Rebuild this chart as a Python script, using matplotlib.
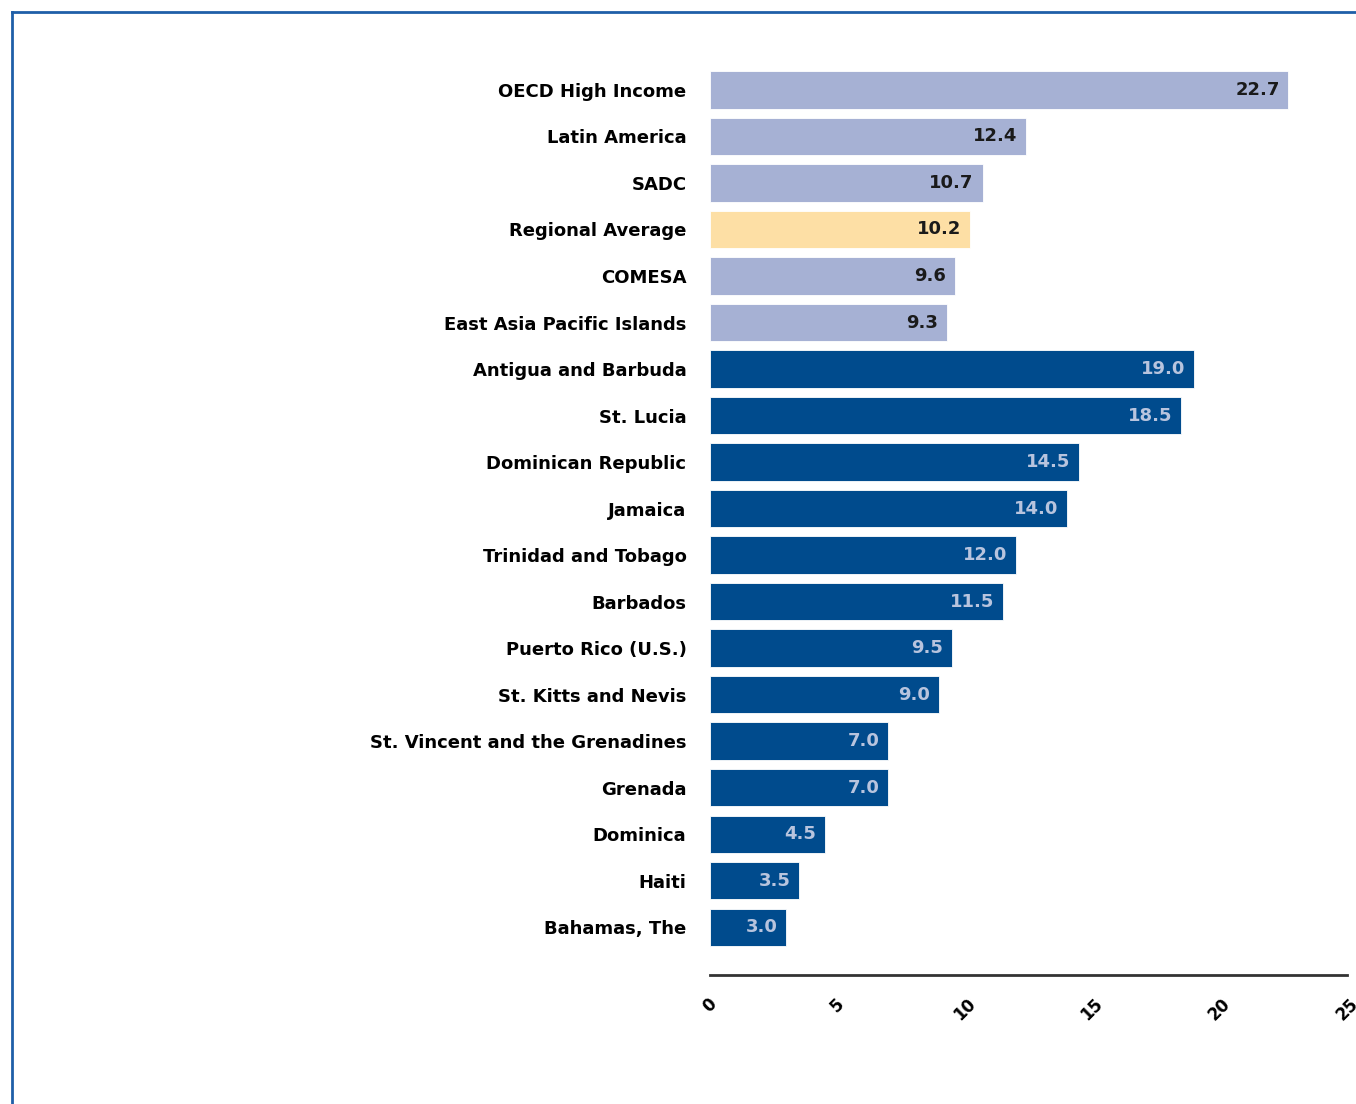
import matplotlib.pyplot as plt
from matplotlib.lines import Line2D

categories = [
    'OECD High Income', 'Latin America', 'SADC', 'Regional Average', 'COMESA',
    'East Asia Pacific Islands', 'Antigua and Barbuda', 'St. Lucia',
    'Dominican Republic', 'Jamaica', 'Trinidad and Tobago', 'Barbados',
    'Puerto Rico (U.S.)', 'St. Kitts and Nevis', 'St. Vincent and the Grenadines',
    'Grenada', 'Dominica', 'Haiti', 'Bahamas, The',
]
values = [22.7, 12.4, 10.7, 10.2, 9.6, 9.3, 19.0, 18.5, 14.5, 14.0, 12.0, 11.5,
          9.5, 9.0, 7.0, 7.0, 4.5, 3.5, 3.0]
groups = ['ref', 'ref', 'ref', 'avg', 'ref', 'ref'] + ['country'] * 13
xticks = [0, 5, 10, 15, 20, 25]

bar_colors = {'ref': '#A6B1D4', 'avg': '#FDDFA5', 'country': '#004B8D'}
label_colors = {'ref': '#1a1a1a', 'avg': '#1a1a1a', 'country': '#B8C4DE'}

fig = plt.figure(figsize=(13.56, 11.04), dpi=100)
ax = fig.add_axes([0.5236, 0.1168, 0.4698, 0.8270])

n = len(categories)
ypos = [n - 1 - i for i in range(n)]
ax.barh(ypos, values, height=0.8,
        color=[bar_colors[g] for g in groups], edgecolor='white', linewidth=0.6)

for y, v, g in zip(ypos, values, groups):
    ax.text(v - 0.35, y, f'{v:.1f}', ha='right', va='center', fontsize=13,
            fontweight='bold', color=label_colors[g])

ax.set_yticks(ypos)
ax.set_yticklabels(categories, fontsize=13, fontweight='bold')
ax.set_xticks(xticks)
ax.set_xticklabels([str(t) for t in xticks], rotation=45, fontsize=12,
                   fontweight='bold', ha='center', va='top')
ax.tick_params(axis='both', length=0)
ax.tick_params(axis='y', pad=17)
ax.tick_params(axis='x', pad=14)
ax.set_xlim(0, 25)
ax.set_ylim(-1.03, 18.6)
for s in ['top', 'right', 'left']:
    ax.spines[s].set_visible(False)
ax.spines['bottom'].set_color('#333333')
ax.spines['bottom'].set_linewidth(2)

# frame lines along the top and left of the picture
fig.add_artist(Line2D([0.0085, 1], [0.989, 0.989], transform=fig.transFigure,
                      color='#1F5FA8', linewidth=2))
fig.add_artist(Line2D([0.0085, 0.0085], [0, 0.989], transform=fig.transFigure,
                      color='#1F5FA8', linewidth=2))

fig.savefig('out.png', dpi=100)
